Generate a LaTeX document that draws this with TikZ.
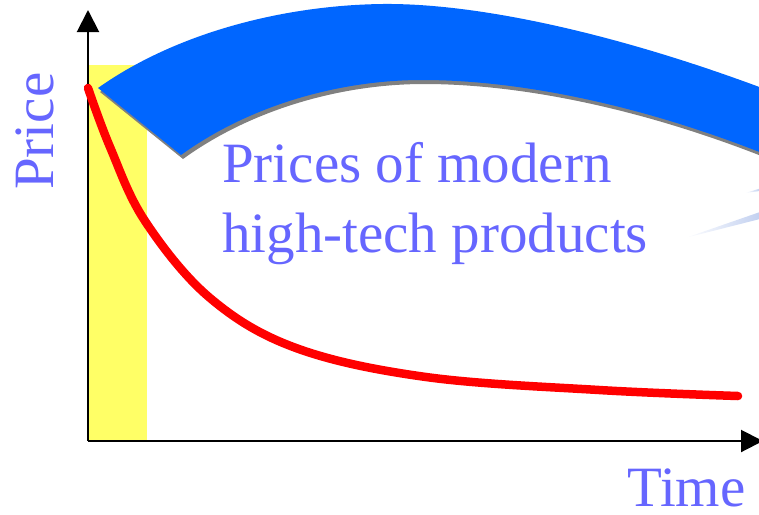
\documentclass[tikz,border=0pt]{standalone}
\usepackage{fontspec}
\setmainfont{Liberation Serif}
\usetikzlibrary{arrows.meta}
\definecolor{txtblue}{HTML}{6666FF}
\definecolor{bandblue}{HTML}{0066FF}
\definecolor{hiyellow}{HTML}{FFFF66}
\definecolor{wedgeblue}{HTML}{C2D0F0}
\definecolor{shadowgray}{HTML}{808080}
\tikzset{
  lbl/.style={inner sep=0pt, text=txtblue, font=\fontsize{57}{70}\selectfont},
  axis/.style={line width=2, -{Triangle[length=22,width=22]}},
  pricecurve/.style={draw=red, line width=8.5, line cap=round, line join=round},
  bandpath/.style={insert path={(98,88) .. controls (180,30) and (290,5) .. (383,4)
  .. controls (480,3) and (620,35) .. (762,88)
  -- (762,153) .. controls (640,105) and (520,80) .. (422,80)
  .. controls (340,80) and (250,105) .. (181,155) -- cycle}},
}
\begin{document}
\begin{tikzpicture}[x=1pt,y=-1pt]
\useasboundingbox (0,0) rectangle (759,514);
% yellow strip
\fill[hiyellow] (88,65) rectangle (147,441);
% band shadow
\begin{scope}[shift={(2,4)}]
\fill[shadowgray] [bandpath];
\end{scope}
% blue band
\fill[bandblue] [bandpath];
% light wedges
\shade[left color=white, right color=wedgeblue] (685,238) -- (760,212) -- (760,219) -- cycle;
\shade[left color=white, right color=wedgeblue] (745,193) -- (760,188.5) -- (760,191) -- cycle;
% axes
\coordinate (o) at (88,441);
\coordinate (ytop) at (88,10);
\coordinate (xend) at (763,441);
\draw[axis] (o) -- (ytop);
\draw[axis] (o) -- (xend);
% red curve
\draw[pricecurve] plot[smooth, tension=0.6] coordinates {(88,88) (110,147) (145,221) (210,298) (296,348) (426,377) (599,390) (738,396)};
% labels
\node[lbl, anchor=base west] (l1) at (222,182) {Prices of modern};
\node[lbl, anchor=base west] (l2) at (222,252) {high-tech products};
\node[lbl, anchor=base west] (time) at (627,506) {Time};
\node[lbl, anchor=base west, rotate=90] (price) at (53,190) {Price};
\end{tikzpicture}
\end{document}
